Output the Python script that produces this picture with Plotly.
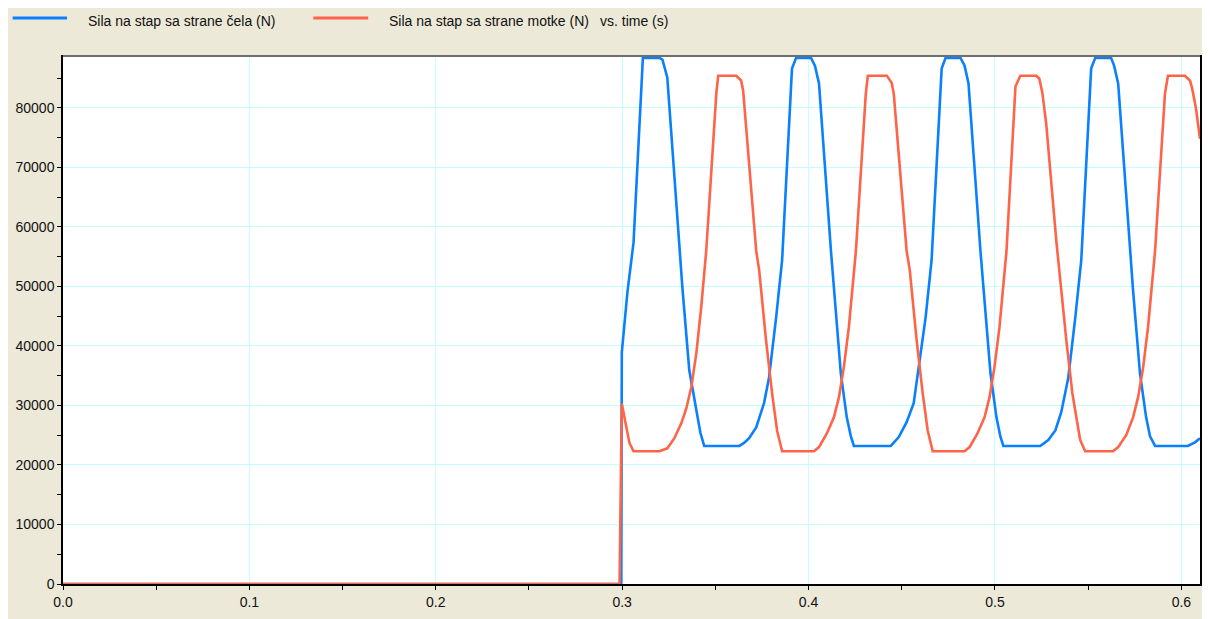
import plotly.graph_objects as go

# ---- data ----
time_cela = [0.0, 0.2995, 0.2998, 0.3028, 0.3061, 0.3111, 0.3200, 0.3216, 0.3242, 0.3307,
             0.3323, 0.3360, 0.3398, 0.3419, 0.3440, 0.3628, 0.3654, 0.3681, 0.3719, 0.3761,
             0.3788, 0.3826, 0.3858, 0.3911, 0.3933, 0.4013, 0.4034, 0.4056, 0.4120, 0.4136,
             0.4173, 0.4205, 0.4227, 0.4243, 0.4441, 0.4484, 0.4526, 0.4564, 0.4580, 0.4628,
             0.4660, 0.4714, 0.4735, 0.4815, 0.4837, 0.4858, 0.4922, 0.4939, 0.4976, 0.5008,
             0.5029, 0.5045, 0.5243, 0.5286, 0.5324, 0.5356, 0.5393, 0.5431, 0.5463, 0.5516,
             0.5538, 0.5623, 0.5639, 0.5661, 0.5725, 0.5741, 0.5778, 0.5811, 0.5832, 0.5859,
             0.6035, 0.6073, 0.6100]
sila_cela = [0, 0, 38900, 49000, 57400, 88400, 88400, 88100, 85100, 56000,
             49800, 35900, 29200, 25500, 23200, 23200, 23700, 24500, 26300, 30400,
             34700, 44800, 54400, 86600, 88400, 88400, 87100, 84100, 56000, 49300,
             35400, 28000, 24800, 23200, 23200, 24700, 27200, 30400, 34200, 44800,
             54400, 86600, 88400, 88400, 87100, 84100, 56000, 49300, 35400, 28000,
             24800, 23200, 23200, 24200, 25800, 28900, 34600, 44800, 54400, 86600,
             88400, 88400, 87100, 84100, 56000, 49300, 35400, 28000, 24800, 23200,
             23200, 23800, 24500]

time_motka = [0.0, 0.2986, 0.2998, 0.3039, 0.3061, 0.3200, 0.3242, 0.3280, 0.3317, 0.3344,
              0.3371, 0.3398, 0.3424, 0.3451, 0.3505, 0.3515, 0.3612, 0.3638, 0.3649, 0.3719,
              0.3735, 0.3772, 0.3804, 0.3831, 0.3858, 0.4029, 0.4056, 0.4098, 0.4136, 0.4163,
              0.4189, 0.4216, 0.4254, 0.4307, 0.4318, 0.4420, 0.4446, 0.4457, 0.4526, 0.4543,
              0.4580, 0.4612, 0.4639, 0.4666, 0.4837, 0.4864, 0.4906, 0.4944, 0.4971, 0.4997,
              0.5024, 0.5062, 0.5110, 0.5136, 0.5222, 0.5238, 0.5254, 0.5275, 0.5329, 0.5345,
              0.5383, 0.5415, 0.5457, 0.5484, 0.5634, 0.5661, 0.5704, 0.5741, 0.5768, 0.5795,
              0.5821, 0.5859, 0.5912, 0.5928, 0.6019, 0.6046, 0.6057, 0.6078, 0.6100]
sila_motka = [0, 0, 30300, 23700, 22300, 22300, 22800, 24500, 27000, 29500,
              33100, 38800, 46500, 56000, 82400, 85400, 85400, 84600, 82900, 56000,
              52700, 40900, 32100, 25800, 22300, 22300, 23000, 25300, 28000, 31400,
              36400, 43100, 56000, 82400, 85400, 85400, 84200, 82400, 56000, 52700,
              40900, 32100, 25800, 22300, 22300, 23000, 25300, 28000, 31400, 36400,
              43100, 56000, 83600, 85400, 85400, 84900, 82600, 77300, 57700, 52700,
              40900, 32100, 24200, 22300, 22300, 23000, 25000, 28000, 31400, 36400,
              43100, 56000, 82400, 85400, 85400, 84600, 83400, 80000, 74800]

label_cela = "Sila na stap sa strane čela (N)"
label_motka = "Sila na stap sa strane motke (N)"
label_vs = "vs. time (s)"

x_ticks = [0.0, 0.1, 0.2, 0.3, 0.4, 0.5, 0.6]
y_ticks = [0, 10000, 20000, 30000, 40000, 50000, 60000, 70000, 80000]

BLUE = "#0A80FF"
RED = "#FF6348"
BEIGE = "#ECE9D8"
FONT = "Liberation Sans, Arial, sans-serif"

# page body has an 8px margin; figure fills the rest of the 1210x619 window
OFF = 8
W, H = 1210 - OFF, 619 - OFF
L, R, T, B = 62 - OFF, 8, 57 - OFF, 35
pw, ph = W - L - R, H - T - B

def px(x):  # window pixel x -> paper coordinate
    return (x - OFF - L) / pw

def py(y):  # window pixel y -> paper coordinate
    return (H - B - (y - OFF)) / ph

fig = go.Figure()
fig.add_trace(go.Scatter(x=time_cela, y=sila_cela, mode="lines", name=label_cela,
                         line=dict(color=BLUE, width=2.6), showlegend=False))
fig.add_trace(go.Scatter(x=time_motka, y=sila_motka, mode="lines", name=label_motka,
                         line=dict(color=RED, width=2.6), showlegend=False))

shapes = [
    # gray top border of plot
    dict(type="line", xref="paper", yref="paper", x0=0, x1=1, y0=py(56), y1=py(56),
         line=dict(color="#6E6E6E", width=2), layer="above"),
    # legend line samples
    dict(type="line", xref="paper", yref="paper", x0=px(11.5), x1=px(66), y0=py(18), y1=py(18),
         line=dict(color=BLUE, width=3)),
    dict(type="line", xref="paper", yref="paper", x0=px(313), x1=px(368), y0=py(18), y1=py(18),
         line=dict(color=RED, width=3)),
]

annotations = [
    dict(text=label_cela, x=px(85), y=py(21), xref="paper", yref="paper",
         xanchor="left", yanchor="middle", showarrow=False,
         font=dict(family=FONT, size=14, color="#111")),
    dict(text=label_motka, x=px(387), y=py(21), xref="paper", yref="paper",
         xanchor="left", yanchor="middle", showarrow=False,
         font=dict(family=FONT, size=14, color="#111")),
    dict(text=label_vs, x=px(598), y=py(21), xref="paper", yref="paper",
         xanchor="left", yanchor="middle", showarrow=False,
         font=dict(family=FONT, size=14, color="#111")),
]

fig.update_layout(
    width=W, height=H,
    margin=dict(l=L, r=R, t=T, b=B, pad=0),
    paper_bgcolor=BEIGE, plot_bgcolor="white",
    font=dict(family=FONT, size=14, color="#111"),
    shapes=shapes, annotations=annotations,
    showlegend=False,
    xaxis=dict(range=[0, 0.61], tickvals=x_ticks, ticktext=[f"{v:.1f}" for v in x_ticks],
               showgrid=True, gridcolor="#C4FFFF", gridwidth=1, zeroline=False,
               showline=True, linecolor="black", linewidth=1.5, mirror=True,
               layer="below traces",
               ticks="outside", ticklen=4, tickcolor="black", tickwidth=1,
               minor=dict(dtick=0.05, tick0=0, ticks="outside", ticklen=4,
                          tickcolor="black", showgrid=False),
               tickfont=dict(family=FONT, size=14, color="#111")),
    yaxis=dict(range=[0, 88550], tickvals=y_ticks, ticktext=[str(v) for v in y_ticks],
               showgrid=True, gridcolor="#C4FFFF", gridwidth=1, zeroline=False,
               showline=True, linecolor="black", linewidth=1.5, mirror=True,
               layer="below traces",
               ticks="outside", ticklen=4, tickcolor="black", tickwidth=1,
               minor=dict(dtick=5000, tick0=0, ticks="outside", ticklen=4,
                          tickcolor="black", showgrid=False),
               tickfont=dict(family=FONT, size=14, color="#111")),
)

fig.write_html("out.html")
